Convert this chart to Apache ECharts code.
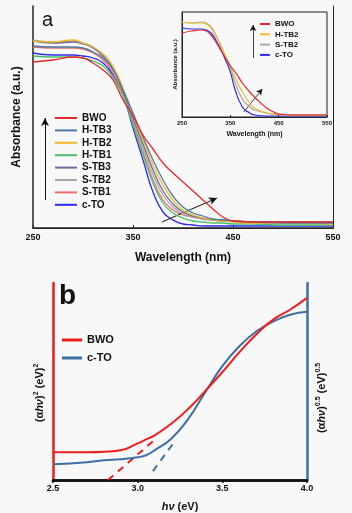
<!DOCTYPE html>
<html>
<head>
<meta charset="utf-8">
<script src="https://cdn.jsdelivr.net/npm/echarts@6/dist/echarts.min.js"></script>
<style>
  html, body { margin: 0; padding: 0; background: #f8f8f8; }
  #chart { width: 352px; height: 513px; }
</style>
</head>
<body>
<div id="chart"></div>
<script>
// panel a, main plot
var wlMain = [250, 270, 290, 300, 310, 320, 330, 340, 350, 360, 370, 380, 390, 400, 410, 420, 430, 440, 450, 470, 500, 550];
var mainNames = ['BWO', 'H-TB3', 'H-TB2', 'H-TB1', 'S-TB3', 'S-TB2', 'S-TB1', 'c-TO'];
var mainColors = ['#e8282b', '#4a7aa8', '#f2b92a', '#4cc06a', '#6a6a9a', '#a8a8a8', '#f26a6a', '#2a2af0'];
var absBWO  = [166, 168, 171, 170, 165, 158, 148, 128, 112, 93, 79, 65, 55, 46, 37, 28, 19, 11, 7, 6, 6, 6];
var absHTB3 = [182, 181, 181, 180, 176, 170, 158, 138, 115, 91, 68, 48, 32, 21, 15, 12, 9, 8, 7, 6, 5, 5];
var absHTB2 = [187, 186, 188, 185, 181, 174, 162, 140, 113, 88, 63, 43, 28, 18, 13, 10, 8, 7, 6, 5, 5, 4];
var absHTB1 = [172, 171, 171, 170, 167, 162, 150, 132, 103, 73, 45, 25, 15, 10, 7, 6, 5, 5, 4, 4, 3, 3];
var absSTB3 = [187, 185, 186, 184, 180, 172, 159, 137, 110, 84, 58, 37, 24, 16, 12, 10, 8, 8, 7, 6, 6, 5];
var absSTB2 = [188, 186, 187, 185, 181, 173, 160, 138, 108, 80, 53, 33, 21, 14, 11, 9, 8, 7, 7, 6, 6, 6];
var absSTB1 = [181, 180, 180, 179, 175, 168, 155, 133, 106, 76, 48, 28, 18, 13, 11, 9, 8, 7, 7, 6, 6, 6];
var absCTO  = [175, 173, 173, 172, 170, 165, 153, 133, 100, 68, 36, 16, 8, 4, 3, 2, 2, 2, 2, 2, 2, 2];
var mainValues = [absBWO, absHTB3, absHTB2, absHTB1, absSTB3, absSTB2, absSTB1, absCTO];

// panel a, inset
var wlInset = [250, 270, 290, 300, 310, 320, 330, 340, 350, 360, 375, 390, 400, 425, 440, 450, 475, 550];
var insetNames = ['BWO', 'H-TB2', 'S-TB2', 'c-TO'];
var insetColors = ['#e8282b', '#f2b92a', '#a8a8a8', '#2a2af0'];
var insBWO  = [84, 86, 87, 86, 82, 75, 67, 59, 51, 45, 34, 25, 20, 9, 5, 3, 2, 2];
var insHTB2 = [95, 94, 94, 93, 89, 81, 72, 61, 51, 39, 25, 14, 9, 4, 3, 2.5, 2, 2];
var insSTB2 = [95, 94, 95, 94, 90, 82, 72, 60, 49, 34, 18, 10, 7, 4, 3, 3, 2.5, 2.5];
var insCTO  = [89, 88, 88, 87, 84, 77, 68, 57, 45, 27, 10, 4, 2, 1, 1, 1, 1, 1];
var insetValues = [insBWO, insHTB2, insSTB2, insCTO];

// panel b, Tauc plot
var energy = [2.5, 2.7, 2.8, 2.9, 3.0, 3.05, 3.1, 3.2, 3.3, 3.4, 3.5, 3.6, 3.7, 3.8, 3.9, 4.0];
var taucBWO = [28, 28, 28.5, 30, 37, 41, 45, 57, 72, 90, 109, 129, 147, 162, 172, 184];
var taucCTO = [16, 18, 20, 21, 23, 25, 30, 42, 62, 89, 115, 135, 150, 160, 167, 170];
var tangentBWO = [[2.825, 0], [3.09, 39]];
var tangentCTO = [[3.09, 9], [3.21, 37]];

var tickA = ['250', '350', '450', '550'];
var tickB = ['2.5', '3.0', '3.5', '4.0'];

function pairs(xs, ys) {
  return xs.map(function (x, i) { return [x, ys[i]]; });
}

var font = 'Liberation Sans, Arial, sans-serif';
var series = [];

mainValues.forEach(function (vals, i) {
  series.push({
    name: mainNames[i], type: 'line', xAxisIndex: 0, yAxisIndex: 0,
    data: pairs(wlMain, vals), smooth: true, showSymbol: false,
    lineStyle: { width: 1.3, color: mainColors[i] }, itemStyle: { color: mainColors[i] },
    z: 10 - i
  });
});
// arrows of panel a
series.push({
  type: 'line', xAxisIndex: 0, yAxisIndex: 0, data: [], silent: true,
  markLine: {
    silent: true, symbol: ['none', 'arrow'], symbolSize: [6, 8], label: { show: false },
    lineStyle: { color: '#111', width: 1, type: 'solid' },
    data: [
      [{ coord: [379, 6] }, { coord: [434, 30] }],
      [{ coord: [262, 28] }, { coord: [262, 110] }]
    ]
  }
});

insetValues.forEach(function (vals, i) {
  series.push({
    name: insetNames[i] + ' ', type: 'line', xAxisIndex: 2, yAxisIndex: 1,
    data: pairs(wlInset, vals), smooth: true, showSymbol: false,
    lineStyle: { width: 1.2, color: insetColors[i] }, itemStyle: { color: insetColors[i] },
    z: 10 - i
  });
});
series.push({
  type: 'line', xAxisIndex: 2, yAxisIndex: 1, data: [], silent: true,
  markLine: {
    silent: true, symbol: ['none', 'arrow'], symbolSize: [5, 6], label: { show: false },
    lineStyle: { color: '#111', width: 0.8, type: 'solid' },
    data: [
      [{ coord: [378, 5] }, { coord: [416, 28] }],
      [{ coord: [397, 59] }, { coord: [397, 92] }]
    ]
  }
});

series.push({
  name: 'BWO  ', type: 'line', xAxisIndex: 3, yAxisIndex: 2,
  data: pairs(energy, taucBWO), smooth: true, showSymbol: false,
  lineStyle: { width: 2, color: '#ee1c1c' }, itemStyle: { color: '#ee1c1c' }, z: 5
});
series.push({
  name: 'c-TO  ', type: 'line', xAxisIndex: 3, yAxisIndex: 2,
  data: pairs(energy, taucCTO), smooth: true, showSymbol: false,
  lineStyle: { width: 2, color: '#3d6fa3' }, itemStyle: { color: '#3d6fa3' }, z: 4
});
series.push({
  type: 'line', xAxisIndex: 3, yAxisIndex: 2, data: tangentBWO, showSymbol: false,
  lineStyle: { width: 2, color: '#ee1c1c', type: [7, 6] }
});
series.push({
  type: 'line', xAxisIndex: 3, yAxisIndex: 2, data: tangentCTO, showSymbol: false,
  lineStyle: { width: 2, color: '#3d6fa3', type: [7, 6] }
});

var tickLabelA = { fontFamily: font, fontWeight: 'bold', fontSize: 9, color: '#111', margin: 5 };

function tickFmt(labels, step, start) {
  return function (v) {
    var k = Math.round((v - start) / step);
    return labels[k] !== undefined ? labels[k] : '';
  };
}

var option = {
  backgroundColor: '#f8f8f8',
  animation: false,
  textStyle: { fontFamily: font },
  grid: [
    { left: 33, right: 19, top: 6, height: 222 },
    { left: 182, width: 145, top: 12, height: 105 },
    { left: 53, width: 254, top: 283, height: 199 }
  ],
  legend: [
    {
      data: mainNames, orient: 'vertical', left: 55, top: 113, padding: 0,
      icon: 'rect', itemWidth: 22, itemHeight: 2, itemGap: 2.4,
      textStyle: { fontFamily: font, fontWeight: 'bold', fontSize: 10, color: '#111', lineHeight: 10 }
    },
    {
      data: insetNames.map(function (n) { return n + ' '; }), orient: 'vertical', left: 260, top: 20, padding: 0,
      icon: 'rect', itemWidth: 10, itemHeight: 2, itemGap: 2.3,
      textStyle: { fontFamily: font, fontWeight: 'bold', fontSize: 8, color: '#111', lineHeight: 8 }
    },
    {
      data: ['BWO  ', 'c-TO  '], orient: 'vertical', left: 62, top: 334, padding: 0,
      icon: 'rect', itemWidth: 20, itemHeight: 3, itemGap: 6,
      textStyle: { fontFamily: font, fontWeight: 'bold', fontSize: 11, color: '#111', lineHeight: 12 }
    }
  ],
  xAxis: [
    {
      gridIndex: 0, type: 'value', min: 250, max: 550, interval: 100,
      name: 'Wavelength (nm)', nameLocation: 'middle', nameGap: 24,
      nameTextStyle: { fontFamily: font, fontWeight: 'bold', fontSize: 12, color: '#111' },
      axisLine: { lineStyle: { color: '#222', width: 1.5 } },
      axisTick: { inside: true, length: 3, lineStyle: { color: '#222' } },
      axisLabel: Object.assign({ formatter: tickFmt(tickA, 100, 250) }, tickLabelA),
      splitLine: { show: false }
    },
    {
      gridIndex: 0, type: 'value', min: 250, max: 550, position: 'top',
      axisLine: { lineStyle: { color: '#222', width: 1 } },
      axisTick: { show: false }, axisLabel: { show: false }, splitLine: { show: false }
    },
    {
      gridIndex: 1, type: 'value', min: 250, max: 550, interval: 100,
      name: 'Wavelength (nm)', nameLocation: 'middle', nameGap: 14,
      nameTextStyle: { fontFamily: font, fontWeight: 'bold', fontSize: 7, color: '#111' },
      axisLine: { lineStyle: { color: '#222', width: 1 } },
      axisTick: { inside: true, length: 2, lineStyle: { color: '#222' } },
      axisLabel: { formatter: tickFmt(tickA, 100, 250), fontFamily: font, fontWeight: 'bold', fontSize: 6, color: '#111', margin: 3 },
      splitLine: { show: false }
    },
    {
      gridIndex: 2, type: 'value', min: 2.5, max: 4.0, interval: 0.5,
      name: '{i|hν} (eV)', nameLocation: 'middle', nameGap: 21,
      nameTextStyle: {
        fontFamily: font, fontWeight: 'bold', fontSize: 11, color: '#111',
        rich: { i: { fontFamily: font, fontWeight: 'bold', fontStyle: 'italic', fontSize: 11, color: '#111' } }
      },
      axisLine: { lineStyle: { color: '#111', width: 2.5 } },
      axisTick: { length: 3, lineStyle: { color: '#111', width: 1.5 } },
      axisLabel: { formatter: tickFmt(tickB, 0.5, 2.5), fontFamily: font, fontWeight: 'bold', fontSize: 9, color: '#111', margin: 4 },
      splitLine: { show: false }
    },
    {
      gridIndex: 2, type: 'value', min: 2.5, max: 4.0, position: 'top',
      axisLine: { lineStyle: { color: '#111', width: 2.5 } },
      axisTick: { show: false }, axisLabel: { show: false }, splitLine: { show: false }
    }
  ],
  yAxis: [
    {
      gridIndex: 0, type: 'value', min: 0, max: 222,
      name: 'Absorbance (a.u.)', nameLocation: 'middle', nameGap: 10,
      nameTextStyle: { fontFamily: font, fontWeight: 'bold', fontSize: 12, color: '#111' },
      axisLine: { show: true, lineStyle: { color: '#222', width: 1.5 } },
      axisTick: { show: false }, axisLabel: { show: false }, splitLine: { show: false }
    },
    {
      gridIndex: 1, type: 'value', min: 0, max: 105,
      name: 'Absorbance (a.u.)', nameLocation: 'middle', nameGap: 4,
      nameTextStyle: { fontFamily: font, fontWeight: 'bold', fontSize: 6, color: '#111' },
      axisLine: { show: true, lineStyle: { color: '#222', width: 1 } },
      axisTick: { show: false }, axisLabel: { show: false }, splitLine: { show: false }
    },
    {
      gridIndex: 2, type: 'value', min: 0, max: 199, position: 'left',
      axisLine: { show: true, lineStyle: { color: '#ee1c1c', width: 2.5 } },
      axisTick: { show: false }, axisLabel: { show: false }, splitLine: { show: false }
    },
    {
      gridIndex: 2, type: 'value', min: 0, max: 199, position: 'right',
      axisLine: { show: true, lineStyle: { color: '#3d6fa3', width: 2.5 } },
      axisTick: { show: false }, axisLabel: { show: false }, splitLine: { show: false }
    },
    {
      gridIndex: 0, type: 'value', min: 0, max: 222, position: 'right',
      axisLine: { show: true, lineStyle: { color: '#222', width: 1 } },
      axisTick: { show: false }, axisLabel: { show: false }, splitLine: { show: false }
    }
  ],
  graphic: [
    // inset frame
    { type: 'rect', shape: { x: 182, y: 12, width: 145, height: 105 }, style: { fill: null, stroke: '#222', lineWidth: 1 }, z: 1 },
    { type: 'text', left: 42, top: 10, style: { text: 'a', font: '20px ' + font, fill: '#111' } },
    { type: 'text', left: 59, top: 282, style: { text: 'b', font: 'bold 28px ' + font, fill: '#111' } },
    {
      type: 'text', x: 40, y: 393, rotation: Math.PI / 2, originX: 0, originY: 0,
      style: {
        text: '({a|α}{i|hν}){s|2} (eV){s|2}', fill: '#111', align: 'center', verticalAlign: 'middle',
        font: 'bold 11px ' + font,
        rich: {
          a: { font: 'bold 11px ' + font, fill: '#111' },
          i: { font: 'bold italic 11px ' + font, fill: '#111' },
          s: { font: 'bold 7px ' + font, fill: '#111', padding: [0, 0, 7, 0] }
        }
      }
    },
    {
      type: 'text', x: 322, y: 398, rotation: Math.PI / 2, originX: 0, originY: 0,
      style: {
        text: '({a|α}{i|hν}){s|0.5} (eV){s|0.5}', fill: '#111', align: 'center', verticalAlign: 'middle',
        font: 'bold 11px ' + font,
        rich: {
          a: { font: 'bold 11px ' + font, fill: '#111' },
          i: { font: 'bold italic 11px ' + font, fill: '#111' },
          s: { font: 'bold 7px ' + font, fill: '#111', padding: [0, 0, 7, 0] }
        }
      }
    }
  ],
  series: series
};

var myChart = echarts.init(document.getElementById('chart'));
myChart.setOption(option);
</script>
</body>
</html>
